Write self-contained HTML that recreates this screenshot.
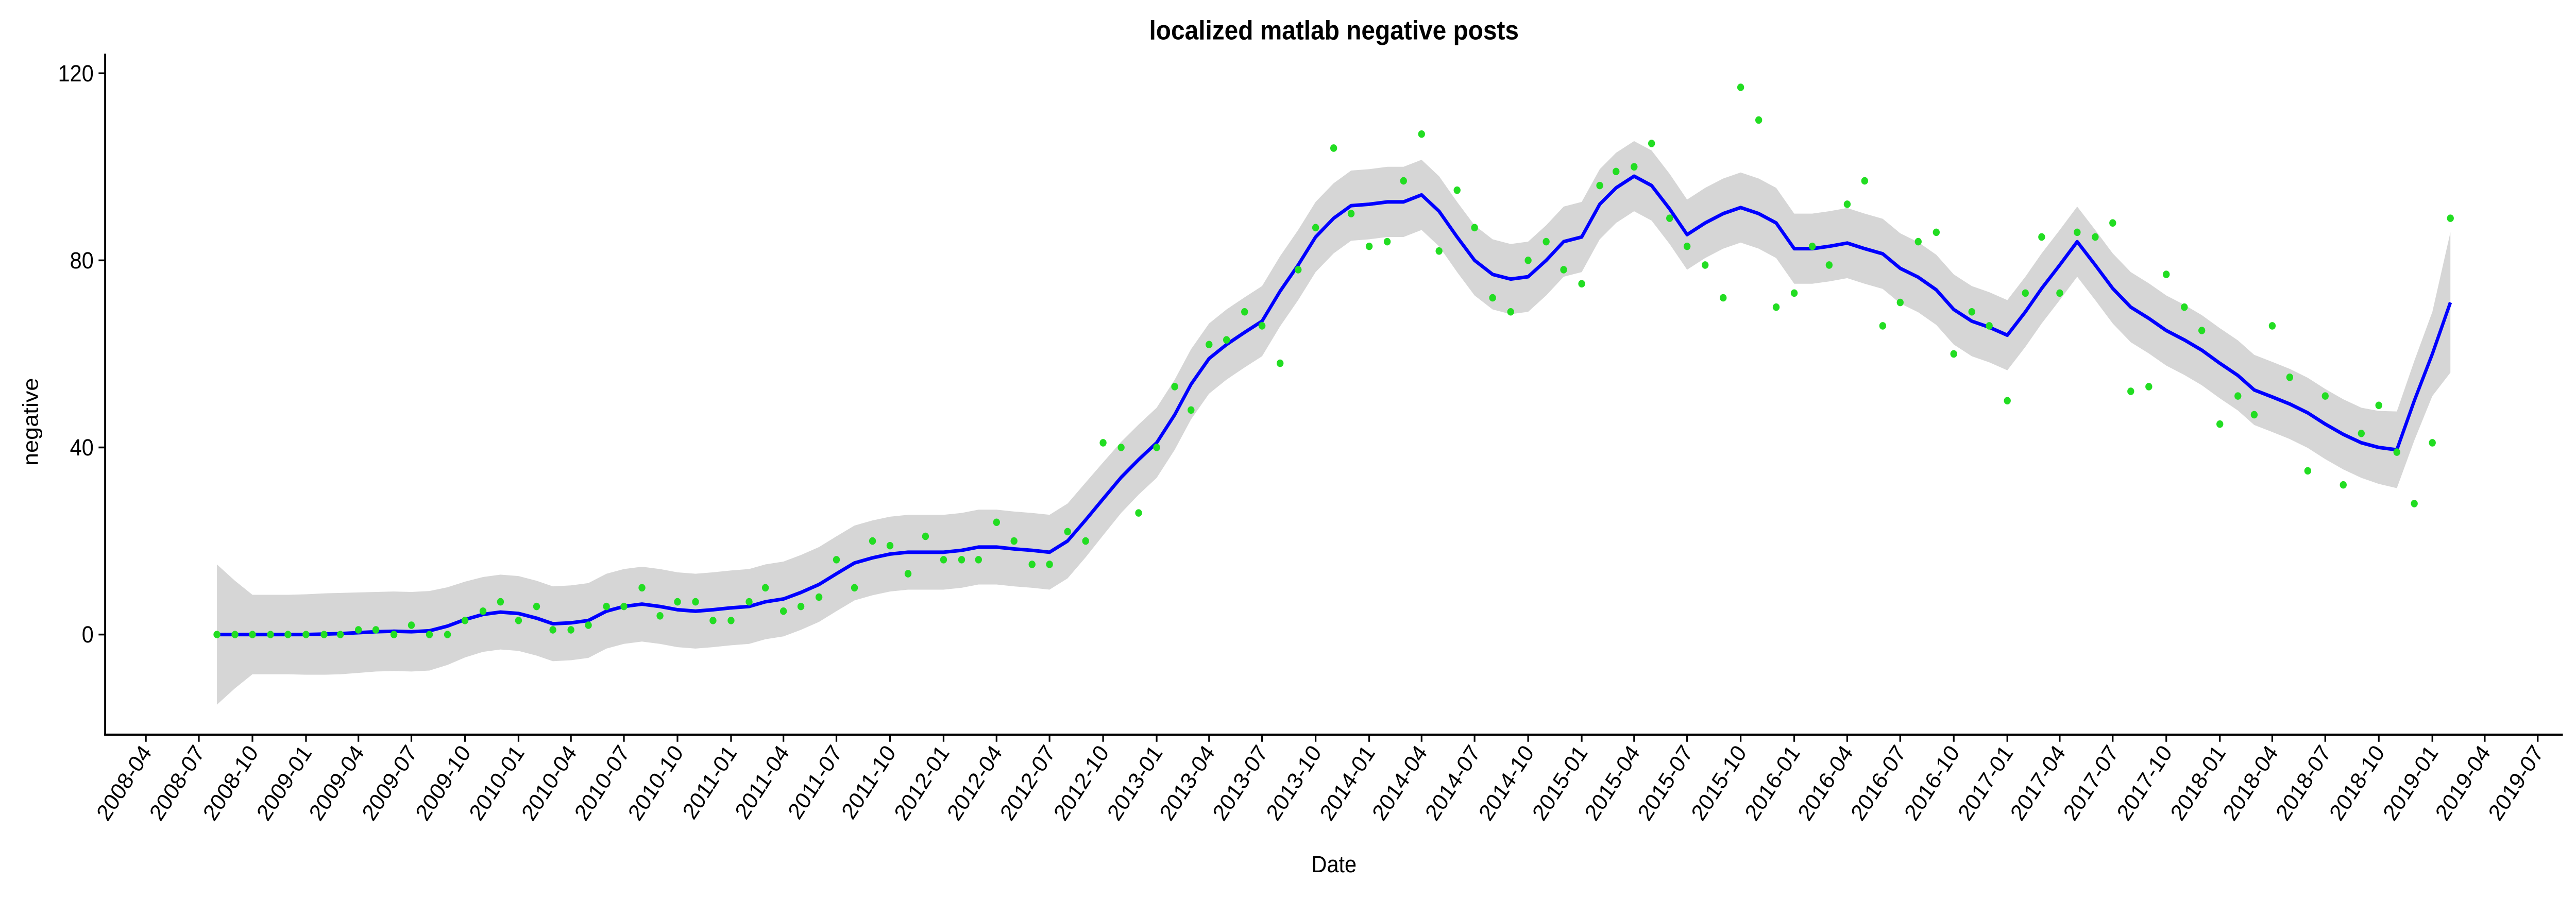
<!DOCTYPE html>
<html><head><meta charset="utf-8"><style>
html,body{margin:0;padding:0;background:#fff;width:100%;height:100%;overflow:hidden}
svg{display:block;position:absolute;left:0;top:0;width:100vw;height:100vh}
text{font-family:"Liberation Sans",sans-serif;fill:#000}
</style></head><body>
<svg id="chart" viewBox="0 0 1568 502.4" preserveAspectRatio="none" xmlns="http://www.w3.org/2000/svg">
<text x="812" y="22" text-anchor="middle" font-size="15" font-weight="bold">localized matlab negative posts</text>
<text transform="translate(23,236) rotate(-90)" text-anchor="middle" font-size="13">negative</text>
<text x="812" y="488" text-anchor="middle" font-size="13">Date</text>
<g id="band"></g>
<g id="line"></g>
<g id="points"></g>
<g id="axes"></g>
</svg>
<script>
const startYear = 2008, startMonth = 8;
const counts = [0,0,0,0,0,
0,0,0,1,1,0,2,0,0,3,5,7,
3,6,1,1,2,6,6,10,4,7,7,3,
3,7,10,5,6,8,16,10,20,19,13,21,
16,16,16,24,20,15,15,22,20,41,40,26,
40,53,48,62,63,69,66,58,78,87,104,90,
83,84,97,107,82,95,87,72,69,80,84,78,
75,96,99,100,105,89,83,79,72,117,110,70,
73,83,79,92,97,66,71,84,86,60,69,66,
50,73,85,73,86,85,88,52,53,77,70,65,
45,51,47,66,55,35,51,32,43,49,39,28,
41,89];
const fitted = [0,0,0,0,0,
0,0.1,0.2,0.4,0.6,0.7,0.6,0.8,1.8,3.2,4.3,4.8,
4.5,3.5,2.3,2.5,3,5,6,6.5,6,5.3,5,5.3,
5.7,6,7,7.6,9,10.7,13,15.3,16.4,17.2,17.6,17.6,
17.6,18,18.7,18.7,18.3,18,17.6,20,24.5,29,33.6,37.4,
41,47,53.5,59,62,64.6,67,73.4,79,85,89,91.7,
92,92.5,92.5,94,90.5,85,80,77,76,76.5,80,84,
85,92,95.5,98,96,91,85.5,88,90,91.3,90,88,
82.5,82.5,83,83.7,82.5,81.4,78.3,76.4,73.7,69.5,67,65.7,
64,69,74,79,84,79,74,70,67.6,65,63,60.8,
58,55.4,52.3,50.8,49.3,47.4,45,42.8,41,40,39.5,50,
60,71];
const halfWidth = [15,11.5,8.5,8.5,8.5,
8.6,8.7,8.7,8.6,8.5,8.5,8.5,8.5,8.3,8.1,8,8,
8,8,8,8,8,8,8,8,8,8,8,8,
8,8,8,8,8,8,8,8,8,8,8,8,
8,8,8,8,8,8,8,8,8,7.8,7.6,7.5,
7.5,7.5,7.5,7.5,7.5,7.5,7.5,7.5,7.5,7.5,7.5,7.5,
7.5,7.5,7.5,7.5,7.5,7.5,7.5,7.5,7.5,7.5,7.5,7.5,
7.5,7.5,7.5,7.5,7.5,7.5,7.5,7.5,7.5,7.5,7.5,7.5,
7.5,7.5,7.5,7.5,7.5,7.5,7.5,7.5,7.5,7.5,7.5,7.5,
7.5,7.5,7.5,7.5,7.5,7.5,7.5,7.5,7.5,7.5,7.5,7.5,
7.5,7.5,7.5,7.5,7.5,7.5,7.5,7.5,7.5,7.8,8.2,8.5,
9,15];
const yTicks = [0,40,80,120];
const xTickLabels = ["2008-04","2008-07","2008-10","2009-01","2009-04","2009-07","2009-10","2010-01","2010-04","2010-07","2010-10","2011-01","2011-04","2011-07","2011-10","2012-01","2012-04","2012-07","2012-10","2013-01","2013-04","2013-07","2013-10","2014-01","2014-04","2014-07","2014-10","2015-01","2015-04","2015-07","2015-10","2016-01","2016-04","2016-07","2016-10","2017-01","2017-04","2017-07","2017-10","2018-01","2018-04","2018-07","2018-10","2019-01","2019-04","2019-07"];

const NS = "http://www.w3.org/2000/svg";
const t0 = Date.UTC(2008,3,1);
function xDate(y,m){ return 88.8 + (Date.UTC(y,m-1,1)-t0)/86400000*0.35441; }
function xIdx(i){ const mm = startMonth-1+i; return xDate(startYear+Math.floor(mm/12), mm%12+1); }
function yv(v){ return 355 - v*2.6167; }
function mk(tag, attrs, parent){ const e=document.createElementNS(NS,tag); for(const k in attrs) e.setAttribute(k,attrs[k]); parent.appendChild(e); return e; }

let up=[], lo=[];
for(let i=0;i<fitted.length;i++){ up.push(xIdx(i).toFixed(2)+","+yv(fitted[i]+halfWidth[i]).toFixed(2)); lo.unshift(xIdx(i).toFixed(2)+","+yv(fitted[i]-halfWidth[i]).toFixed(2)); }
const bandEl = mk("polygon",{points:up.concat(lo).join(" "),fill:"#d6d6d6",stroke:"none"},document.getElementById("band"));



const pg = document.getElementById("points");
for(let i=0;i<counts.length;i++){
  const c = mk("ellipse",{cx:xIdx(i).toFixed(2),cy:yv(counts[i]).toFixed(2),rx:2.1,ry:2.1,fill:"#22dd22"},pg);
  
  
}

const lp = fitted.map((v,i)=>xIdx(i).toFixed(2)+","+yv(v).toFixed(2)).join(" ");
const lineEl = mk("polyline",{points:lp,fill:"none",stroke:"#0000ff","stroke-width":2,"stroke-linejoin":"round"},document.getElementById("line"));



const ax = document.getElementById("axes");
const yl = mk("line",{x1:64,y1:30,x2:64,y2:411,stroke:"#000","stroke-width":1.2},ax);


const xl = mk("line",{x1:63.4,y1:411,x2:1560,y2:411,stroke:"#000","stroke-width":1.2},ax);


yTicks.forEach(v=>{
  const y=yv(v);
  const tk = mk("line",{x1:60,y1:y,x2:64,y2:y,stroke:"#000","stroke-width":1},ax);
  
  
  const tx = mk("text",{x:57,y:y+4.5,"text-anchor":"end","font-size":13},ax);
  tx.textContent = v;
  
  
});
xTickLabels.forEach(lab=>{
  const [yy,mm] = lab.split("-").map(Number);
  const x = xDate(yy,mm);
  const tk = mk("line",{x1:x,y1:411,x2:x,y2:415,stroke:"#000","stroke-width":1},ax);
  
  
  const tx = mk("text",{transform:"translate("+(x+4).toFixed(2)+",421) rotate(-55)","text-anchor":"end","font-size":13},ax);
  tx.textContent = lab;
  
  
});
</script>
</body></html>
